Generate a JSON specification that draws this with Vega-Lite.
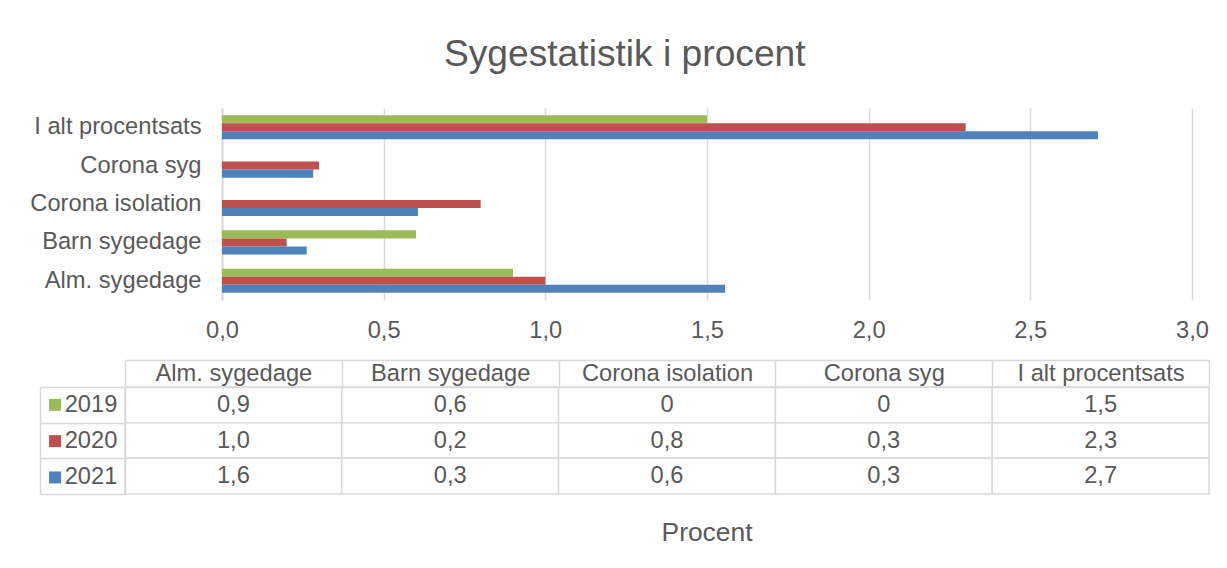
{
  "$schema": "https://vega.github.io/schema/vega-lite/v6.json",
  "background": "white",
  "padding": {"left": 29, "top": 36, "right": 0, "bottom": 0},
  "title": {"text": "Sygestatistik i procent", "anchor": "middle", "fontSize": 37.2, "font": "Liberation Sans", "fontWeight": "normal", "color": "#595959", "offset": 33.5, "dx": 5},
  "datasets": {
    "sygdom": [
      {"kategori": "Alm. sygedage", "aar": "2019", "procent": 0.9},
      {"kategori": "Alm. sygedage", "aar": "2020", "procent": 1.0},
      {"kategori": "Alm. sygedage", "aar": "2021", "procent": 1.556},
      {"kategori": "Barn sygedage", "aar": "2019", "procent": 0.6},
      {"kategori": "Barn sygedage", "aar": "2020", "procent": 0.2},
      {"kategori": "Barn sygedage", "aar": "2021", "procent": 0.262},
      {"kategori": "Corona isolation", "aar": "2019", "procent": 0},
      {"kategori": "Corona isolation", "aar": "2020", "procent": 0.8},
      {"kategori": "Corona isolation", "aar": "2021", "procent": 0.606},
      {"kategori": "Corona syg", "aar": "2019", "procent": 0},
      {"kategori": "Corona syg", "aar": "2020", "procent": 0.3},
      {"kategori": "Corona syg", "aar": "2021", "procent": 0.282},
      {"kategori": "I alt procentsats", "aar": "2019", "procent": 1.5},
      {"kategori": "I alt procentsats", "aar": "2020", "procent": 2.3},
      {"kategori": "I alt procentsats", "aar": "2021", "procent": 2.709}
    ]
  },
  "bounds": "flush",
  "spacing": 87,
  "vconcat": [
    {
      "width": 1084,
      "height": 192,
      "data": {"name": "sygdom"},
      "mark": {"type": "bar"},
      "encoding": {
        "y": {
          "field": "kategori", "type": "nominal",
          "sort": ["I alt procentsats", "Corona syg", "Corona isolation", "Barn sygedage", "Alm. sygedage"],
          "scale": {"paddingInner": 0.3734, "paddingOuter": 0.1867},
          "axis": {"title": null, "orient": "left", "offset": -97, "ticks": false, "labelPadding": 21, "domainColor": "#d9d9d9", "domainWidth": 2, "labelFontSize": 23.7, "labelColor": "#595959", "labelFont": "Liberation Sans", "labelLimit": 400}
        },
        "yOffset": {
          "field": "aar", "type": "nominal",
          "scale": {"domain": ["2019", "2020", "2021"], "paddingInner": 0, "paddingOuter": 0}
        },
        "x": {
          "field": "procent", "type": "quantitative", "stack": null,
          "scale": {"domain": [-0.3, 3.0526], "nice": false},
          "axis": {"title": null, "values": [0, 0.5, 1, 1.5, 2, 2.5, 3], "format": ".1f", "domain": false, "ticks": false, "grid": true, "gridColor": "#d9d9d9", "gridWidth": 1.5, "labelPadding": 18, "labelFontSize": 23.7, "labelColor": "#595959", "labelFont": "Liberation Sans", "labelFlush": false, "labelOverlap": false}
        },
        "color": {
          "field": "aar", "type": "nominal",
          "scale": {"domain": ["2019", "2020", "2021"], "range": ["#9BBB59", "#C0504D", "#4F81BD"]},
          "legend": {"orient": "none", "legendX": -81.8, "legendY": 285, "title": null, "symbolType": "square", "symbolSize": 144, "symbolStrokeWidth": 0, "labelFontSize": 23.7, "labelColor": "#595959", "labelFont": "Liberation Sans", "labelOffset": -2.2, "rowPadding": 11.3, "padding": 0, "offset": 0}
        }
      }
    },
    {
      "width": 1084,
      "height": 107,
      "data": {"name": "sygdom"},
      "title": {"text": "Procent", "orient": "bottom", "anchor": "middle", "frame": "group", "dx": 40, "offset": 25, "fontSize": 26.4, "font": "Liberation Sans", "fontWeight": "normal", "color": "#595959"},
      "layer": [
        {
          "mark": {"type": "rect", "fill": "white", "stroke": "#d9d9d9", "strokeWidth": 1.5},
          "encoding": {
            "x": {
              "field": "kategori", "type": "nominal",
              "sort": ["Alm. sygedage", "Barn sygedage", "Corona isolation", "Corona syg", "I alt procentsats"],
              "scale": {"paddingInner": 0, "paddingOuter": 0},
              "axis": {"orient": "top", "title": null, "tickBand": "extent", "tickSize": 27, "tickColor": "#d9d9d9", "tickWidth": 1.5, "domainColor": "#d9d9d9", "domainWidth": 1.5, "labelPadding": -13.5, "labelBaseline": "middle", "labelAngle": 0, "labelFontSize": 23.7, "labelColor": "#595959", "labelFont": "Liberation Sans", "labelLimit": 400}
            },
            "y": {
              "field": "aar", "type": "nominal",
              "scale": {"domain": ["2019", "2020", "2021"], "paddingInner": 0, "paddingOuter": 0},
              "axis": {"orient": "left", "title": null, "labels": false, "tickBand": "extent", "tickSize": 85, "tickColor": "#d9d9d9", "tickWidth": 1.5, "domainColor": "#d9d9d9", "domainWidth": 1.5}
            }
          }
        },
        {
          "mark": {"type": "text", "fontSize": 23.7, "font": "Liberation Sans", "color": "#595959", "align": "center", "baseline": "middle"},
          "encoding": {
            "x": {
              "field": "kategori", "type": "nominal",
              "sort": ["Alm. sygedage", "Barn sygedage", "Corona isolation", "Corona syg", "I alt procentsats"],
              "axis": {"orient": "top", "title": null, "offset": 27, "labels": false, "ticks": false, "domainColor": "#d9d9d9", "domainWidth": 1.5}
            },
            "y": {
              "field": "aar", "type": "nominal",
              "axis": {"orient": "left", "title": null, "offset": 85, "labels": false, "ticks": false, "domainColor": "#d9d9d9", "domainWidth": 1.5}
            },
            "text": {
              "condition": {"test": "datum.procent == 0", "value": "0"},
              "field": "procent", "type": "quantitative", "format": ".1f"
            }
          }
        }
      ],
      "resolve": {"axis": {"x": "independent", "y": "independent"}}
    }
  ],
  "config": {
    "locale": {"number": {"decimal": ",", "thousands": ".", "grouping": [3], "currency": ["", " kr."]}},
    "view": {"stroke": null},
    "font": "Liberation Sans"
  }
}
